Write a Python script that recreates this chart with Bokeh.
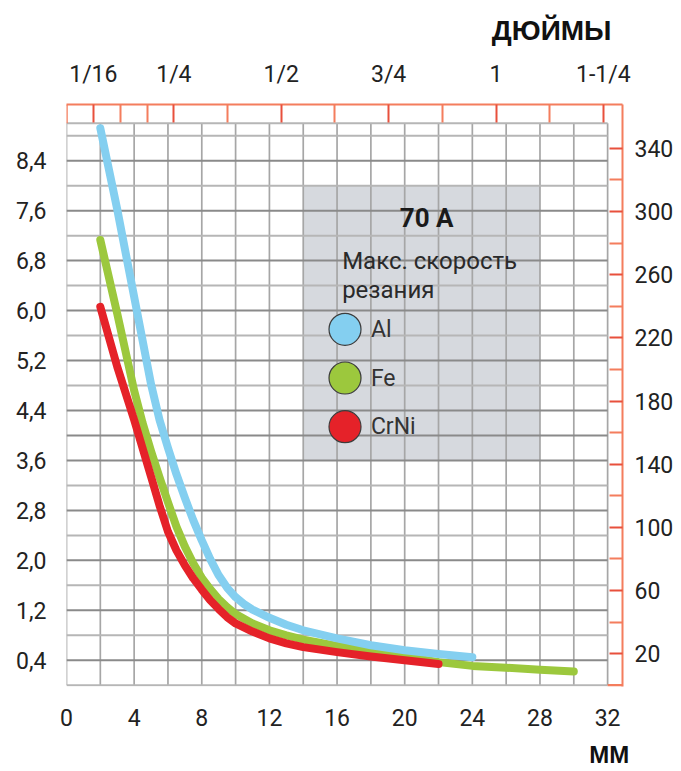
import numpy as np
from bokeh.plotting import figure
from bokeh.models import (Range1d, LinearAxis, FixedTicker, CustomJSTickFormatter,
                          BoxAnnotation, Label, ColumnDataSource)
from bokeh.embed import file_html
from bokeh.resources import INLINE

# ---------------- data ----------------
al_mm = [2, 3, 4, 5, 5.5, 6, 6.5, 7, 7.5, 8, 8.5, 9, 9.5, 10, 10.5, 11, 12, 13, 14, 16, 18, 20, 22, 24]
al_speed = [8.92, 7.62, 6.22, 4.82, 4.25, 3.8, 3.38, 3.0, 2.64, 2.32, 2.02, 1.76, 1.56, 1.41, 1.3, 1.21,
            1.08, 0.97, 0.88, 0.75, 0.64, 0.56, 0.5, 0.45]

fe_mm = [2, 3, 4, 4.5, 5, 5.5, 6, 6.5, 7, 7.5, 8, 8.5, 9, 9.5, 10, 11, 12, 13, 14, 16, 18, 20, 22, 24, 26, 28, 30]
fe_speed = [7.13, 5.95, 4.72, 4.2, 3.75, 3.33, 2.93, 2.54, 2.22, 1.95, 1.72, 1.54, 1.38, 1.25, 1.14, 0.99,
            0.88, 0.8, 0.73, 0.63, 0.54, 0.46, 0.37, 0.31, 0.28, 0.25, 0.22]

crni_mm = [2, 3, 4, 5, 5.5, 6, 6.5, 7, 7.5, 8, 8.5, 9, 9.5, 10, 11, 12, 13, 14, 16, 18, 20, 22]
crni_speed = [6.06, 5.1, 4.25, 3.34, 2.88, 2.46, 2.16, 1.92, 1.71, 1.53, 1.36, 1.22, 1.09, 0.99, 0.86,
              0.75, 0.67, 0.61, 0.53, 0.46, 0.4, 0.34]

series_names = ["Al", "Fe", "CrNi"]
series_colors = ["#84cff0", "#9cc83d", "#e52229"]

left_ticks = [0.4, 1.2, 2.0, 2.8, 3.6, 4.4, 5.2, 6.0, 6.8, 7.6, 8.4]
right_ticks = [20, 60, 100, 140, 180, 220, 260, 300, 340]
right_minor = [40, 80, 120, 160, 200, 240, 280, 320]
bottom_ticks = [0, 4, 8, 12, 16, 20, 24, 28, 32]
inch_ticks = [0.0625, 0.25, 0.5, 0.75, 1.0, 1.25]
inch_labels = ["1/16", "1/4", "1/2", "3/4", "1", "1-1/4"]
inch_minor = [0.125, 0.1875, 0.375, 0.625, 0.875, 1.125]

legend_header = "70 A"
legend_sub = ["Макс. скорость", "резания"]
unit_top = "ДЮЙМЫ"
unit_bottom = "ММ"

# ---------------- figure ----------------
FONT = "Roboto"
BOLD = "Liberation Sans"
ORANGE = "#f47d5d"
RED_T = "#e8503c"
TXT = "#222222"

X_END = 32.88
Y_START = -0.02
Y_END = 9.3
GRID_X_END = 32
GRID_Y_END = 9.0

W, H = 676, 770
FRAME_L, FRAME_T, FRAME_R, FRAME_B = 66, 104, 625, 686

p = figure(width=W, height=H, output_backend="svg", toolbar_location=None,
           x_range=Range1d(0, X_END), y_range=Range1d(Y_START, Y_END),
           min_border_left=FRAME_L, min_border_right=W - FRAME_R,
           min_border_top=FRAME_T, min_border_bottom=H - FRAME_B,
           background_fill_color="white", border_fill_color="white")
p.outline_line_color = None
p.grid.visible = False

p.extra_x_ranges = {"inch": Range1d(0, X_END / 25.4)}
p.extra_y_ranges = {"ipm": Range1d(Y_START * 39.55, Y_END * 39.55)}

# bottom axis (mm)
xa = p.xaxis[0]
xa.ticker = FixedTicker(ticks=bottom_ticks)
xa.axis_line_color = None
xa.major_tick_line_color = None
xa.minor_tick_line_color = None
xa.major_label_text_font = FONT
xa.major_label_text_font_size = "23px"
xa.major_label_text_color = TXT
xa.major_label_standoff = 16
xa.axis_label = unit_bottom + "\u00a0\u00a0\u00a0\u00a0"
xa.axis_label_align = "end"
xa.axis_label_standoff = 12
xa.axis_label_text_font = BOLD
xa.axis_label_text_font_style = "bold"
xa.axis_label_text_font_size = "24px"
xa.axis_label_text_color = "#111111"

# left axis (m/min)
ya = p.yaxis[0]
ya.ticker = FixedTicker(ticks=left_ticks)
ya.formatter = CustomJSTickFormatter(code="return tick.toFixed(1).replace('.', ',');")
ya.axis_line_color = None
ya.major_tick_line_color = None
ya.minor_tick_line_color = None
ya.major_label_text_font = FONT
ya.major_label_text_font_size = "23px"
ya.major_label_text_color = TXT
ya.major_label_standoff = 14

# top axis (inches)
ta = LinearAxis(x_range_name="inch",
                ticker=FixedTicker(ticks=inch_ticks, minor_ticks=inch_minor),
                major_label_overrides=dict(zip(inch_ticks, inch_labels)))
ta.axis_line_color = ORANGE
ta.axis_line_width = 2
ta.major_tick_line_color = RED_T
ta.major_tick_line_width = 2
ta.major_tick_in = 18
ta.major_tick_out = 0
ta.minor_tick_line_color = ORANGE
ta.minor_tick_line_width = 2
ta.minor_tick_in = 18
ta.minor_tick_out = 0
ta.major_label_text_font = FONT
ta.major_label_text_font_size = "23px"
ta.major_label_text_color = TXT
ta.major_label_standoff = 17
p.add_layout(ta, "above")

# right axis (inch/min)
ra = LinearAxis(y_range_name="ipm",
                ticker=FixedTicker(ticks=right_ticks, minor_ticks=right_minor))
ra.axis_line_color = ORANGE
ra.axis_line_width = 2
ra.major_tick_line_color = RED_T
ra.major_tick_line_width = 2
ra.major_tick_in = 13
ra.major_tick_out = 0
ra.minor_tick_line_color = ORANGE
ra.minor_tick_line_width = 2
ra.minor_tick_in = 13
ra.minor_tick_out = 0
ra.major_label_text_font = FONT
ra.major_label_text_font_size = "23px"
ra.major_label_text_color = TXT
ra.major_label_standoff = 12
p.add_layout(ra, "right")

# unit title (top)
p.title.text = unit_top
p.title.align = "right"
p.title.text_font = BOLD
p.title.text_font_style = "bold"
p.title.text_font_size = "28px"
p.title.text_color = "#111111"
p.title.offset = 11
p.title.standoff = 24

# ---------------- grid ----------------
vx = np.arange(0, GRID_X_END + 1, 2)
p.segment(x0=vx, y0=0, x1=vx, y1=GRID_Y_END, line_color="#a6a6a6", line_width=1.7)
hy = [round(v, 1) for v in np.arange(0, GRID_Y_END, 0.4)] + [GRID_Y_END]
major_set = set(left_ticks)
hy_major = [v for v in hy if v in major_set or v == 4.0]
hy_minor = [v for v in hy if v not in hy_major]
p.segment(x0=0, y0=hy_minor, x1=GRID_X_END, y1=hy_minor, line_color="#b6b6b6", line_width=2)
p.segment(x0=0, y0=hy_major, x1=GRID_X_END, y1=hy_major, line_color="#8a8a8a", line_width=2)

# orange ruler edges
p.segment(x0=[0], y0=[GRID_Y_END], x1=[0], y1=[Y_END], line_color=ORANGE, line_width=2.5)
p.segment(x0=[GRID_X_END], y0=[0], x1=[X_END], y1=[0], line_color=ORANGE, line_width=2.5)

# ---------------- legend box ----------------
BL, BR, BB, BT = 14, 28, 3.6, 8.0
p.add_layout(BoxAnnotation(left=BL, right=BR, bottom=BB, top=BT,
                           fill_color="#d6d9de", fill_alpha=1.0, line_color=None, level="underlay"))

# ---------------- curves ----------------
srcs = {
    "Fe": ColumnDataSource(dict(x=fe_mm, y=fe_speed)),
    "Al": ColumnDataSource(dict(x=al_mm, y=al_speed)),
    "CrNi": ColumnDataSource(dict(x=crni_mm, y=crni_speed)),
}
cmap = dict(zip(series_names, series_colors))
for name in ["Fe", "Al", "CrNi"]:
    p.line("x", "y", source=srcs[name], line_color=cmap[name], line_width=8,
           line_cap="round", line_join="round")

# ---------------- legend content ----------------
leg_x = BL + 2.47
leg_y = [BT - 2.30 - i * 0.78 for i in range(len(series_names))]
p.scatter(x=[leg_x] * len(series_names), y=leg_y, size=32, fill_color=series_colors,
          line_color="#3c3c3c", line_width=1.2)
for name, yy in zip(series_names, leg_y):
    p.add_layout(Label(x=BL + 4.0, y=yy, text=name, text_font=FONT, text_font_size="23px",
                       text_color="#333333", text_baseline="middle"))

p.add_layout(Label(x=(BL + BR) / 2 + 0.3, y=BT - 0.52, text=legend_header, text_font=FONT,
                   text_font_size="26px", text_font_style="bold", text_color="#1a1a1a",
                   text_align="center", text_baseline="middle"))
p.add_layout(Label(x=BL + 2.3, y=BT - 1.2, text=legend_sub[0], text_font=FONT,
                   text_font_size="24px", text_color="#2a2a2a", text_baseline="alphabetic"))
p.add_layout(Label(x=BL + 2.3, y=BT - 1.67, text=legend_sub[1], text_font=FONT,
                   text_font_size="24px", text_color="#2a2a2a", text_baseline="alphabetic"))

open("out.html", "w").write(file_html(p, INLINE))
